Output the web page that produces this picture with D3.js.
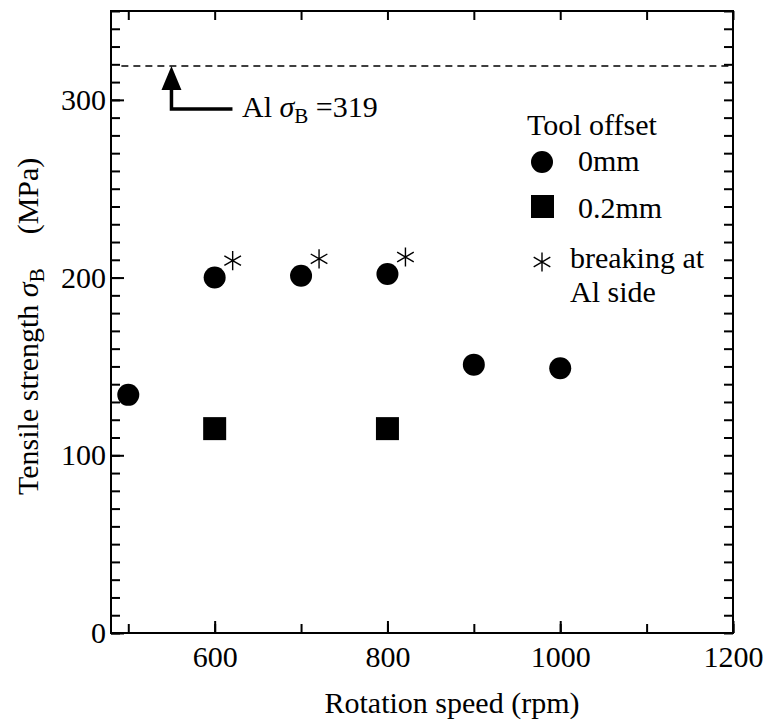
<!DOCTYPE html>
<html>
<head>
<meta charset="utf-8">
<script src="https://cdn.jsdelivr.net/npm/d3@7"></script>
<style>
  body { margin: 0; background: #fff; }
  svg text { font-family: "Liberation Serif", "Times New Roman", Times, serif; }
</style>
</head>
<body>
<div id="chart"></div>
<script>
// data
const speed0 = [500, 600, 700, 800, 900, 1000];
const strength0 = [134, 200, 201, 202, 151, 149];
const speed02 = [600, 800];
const strength02 = [115, 115];
const breakAlSide = [600, 700, 800];
const alStrength = 319;
const xTicks = [600, 800, 1000, 1200];
const yTicks = [0, 100, 200, 300];

const width = 769, height = 720;
const mLeft = 111, mRight = 733, mTop = 11, mBottom = 633;
const serif = "'Liberation Serif', 'Times New Roman', Times, serif";
const fs = 30;

const svg = d3.select("#chart").append("svg")
    .attr("width", width)
    .attr("height", height)
    .attr("font-family", serif);

const x = d3.scaleLinear().domain([480, 1200]).range([mLeft, mRight]);
const y = d3.scaleLinear().domain([0, 350]).range([mBottom, mTop]);

// minor ticks on all sides
const xMinor = d3.range(500, 1201, 100);
const yMinor = d3.range(0, 351, 10);

svg.append("g").attr("transform", `translate(0,${mBottom})`)
    .call(d3.axisBottom(x).tickValues(xMinor).tickSize(-9).tickFormat(""))
    .call(g => g.select(".domain").remove());
svg.append("g").attr("transform", `translate(0,${mBottom})`)
    .call(d3.axisBottom(x).tickValues(xTicks).tickSize(-12).tickPadding(13).tickFormat(d3.format("d")))
    .call(g => g.select(".domain").remove())
    .call(g => g.attr("font-family", serif).attr("font-size", fs))
    .call(g => g.selectAll("text").attr("fill", "#000"));
svg.append("g").attr("transform", `translate(0,${mTop})`)
    .call(d3.axisTop(x).tickValues(xMinor).tickSize(-9).tickFormat(""))
    .call(g => g.select(".domain").remove());

svg.append("g").attr("transform", `translate(${mLeft},0)`)
    .call(d3.axisLeft(y).tickValues(yMinor).tickSize(-9).tickFormat(""))
    .call(g => g.select(".domain").remove());
svg.append("g").attr("transform", `translate(${mLeft},0)`)
    .call(d3.axisLeft(y).tickValues(yTicks).tickSize(-13).tickPadding(5))
    .call(g => g.select(".domain").remove())
    .call(g => g.attr("font-family", serif).attr("font-size", fs))
    .call(g => g.selectAll("text").attr("fill", "#000"));
svg.append("g").attr("transform", `translate(${mRight},0)`)
    .call(d3.axisRight(y).tickValues(yMinor).tickSize(-9).tickFormat(""))
    .call(g => g.select(".domain").remove());

svg.selectAll(".tick line").attr("stroke", "#000").attr("stroke-width", 2);

// frame
svg.append("rect")
    .attr("x", mLeft).attr("y", mTop)
    .attr("width", mRight - mLeft).attr("height", mBottom - mTop)
    .attr("fill", "none").attr("stroke", "#000").attr("stroke-width", 2);

// Al base metal strength
svg.append("line")
    .attr("x1", x(492)).attr("x2", mRight)
    .attr("y1", y(alStrength)).attr("y2", y(alStrength))
    .attr("stroke", "#000").attr("stroke-width", 1.5)
    .attr("stroke-dasharray", "7,5");

const ax = x(550), ay = y(alStrength);
svg.append("path")
    .attr("d", `M${ax},${ay} L${ax - 10},${ay + 24} L${ax + 10},${ay + 24} Z`)
    .attr("fill", "#000");
svg.append("path")
    .attr("d", `M${ax},${ay + 22} V${ay + 43} H${ax + 61}`)
    .attr("fill", "none").attr("stroke", "#000").attr("stroke-width", 3.5);

const alText = svg.append("text").attr("x", 242).attr("y", 117).attr("font-size", fs);
alText.append("tspan").text("Al ");
alText.append("tspan").attr("font-style", "italic").text("σ");
alText.append("tspan").attr("dy", 6).attr("font-size", 21).text("B");
alText.append("tspan").attr("dy", -6).text(" =" + alStrength);

// points
svg.append("g").selectAll("circle")
    .data(speed0.map((s, i) => ({s, v: strength0[i]})))
    .join("circle")
    .attr("cx", d => x(d.s)).attr("cy", d => y(d.v))
    .attr("r", 11).attr("fill", "#000");

svg.append("g").selectAll("rect")
    .data(speed02.map((s, i) => ({s, v: strength02[i]})))
    .join("rect")
    .attr("x", d => x(d.s) - 11.5).attr("y", d => y(d.v) - 11.5)
    .attr("width", 23).attr("height", 23).attr("fill", "#000");

const star = d3.symbol().type(d3.symbolAsterisk).size(260);
svg.append("g").selectAll("path")
    .data(breakAlSide)
    .join("path")
    .attr("transform", s => {
        const v = strength0[speed0.indexOf(s)];
        return `translate(${x(s) + 18},${y(v) - 17})`;
    })
    .attr("d", star)
    .attr("fill", "none").attr("stroke", "#000").attr("stroke-width", 1.4);

// legend
const lg = svg.append("g").attr("font-size", fs);
lg.append("text").attr("x", 527).attr("y", 135).text("Tool offset");
lg.append("circle").attr("cx", 542).attr("cy", 162).attr("r", 11).attr("fill", "#000");
lg.append("text").attr("x", 578).attr("y", 171).text("0mm");
lg.append("rect").attr("x", 531).attr("y", 195).attr("width", 23).attr("height", 23).attr("fill", "#000");
lg.append("text").attr("x", 578).attr("y", 218).text("0.2mm");
lg.append("path").attr("transform", "translate(542,262)").attr("d", star)
    .attr("fill", "none").attr("stroke", "#000").attr("stroke-width", 1.4);
lg.append("text").attr("x", 570).attr("y", 268).text("breaking at");
lg.append("text").attr("x", 570).attr("y", 302).text("Al side");

// axis titles
svg.append("text")
    .attr("x", 452).attr("y", 713)
    .attr("text-anchor", "middle")
    .attr("font-size", fs)
    .text("Rotation speed (rpm)");

const yt = svg.append("text")
    .attr("transform", "translate(38,495) rotate(-90)")
    .attr("font-size", fs);
yt.append("tspan").text("Tensile strength ");
yt.append("tspan").attr("font-style", "italic").text("σ");
yt.append("tspan").attr("dy", 6).attr("font-size", 21).text("B");
yt.append("tspan").attr("dy", -6).attr("dx", 34).text("(MPa)");
</script>
</body>
</html>
